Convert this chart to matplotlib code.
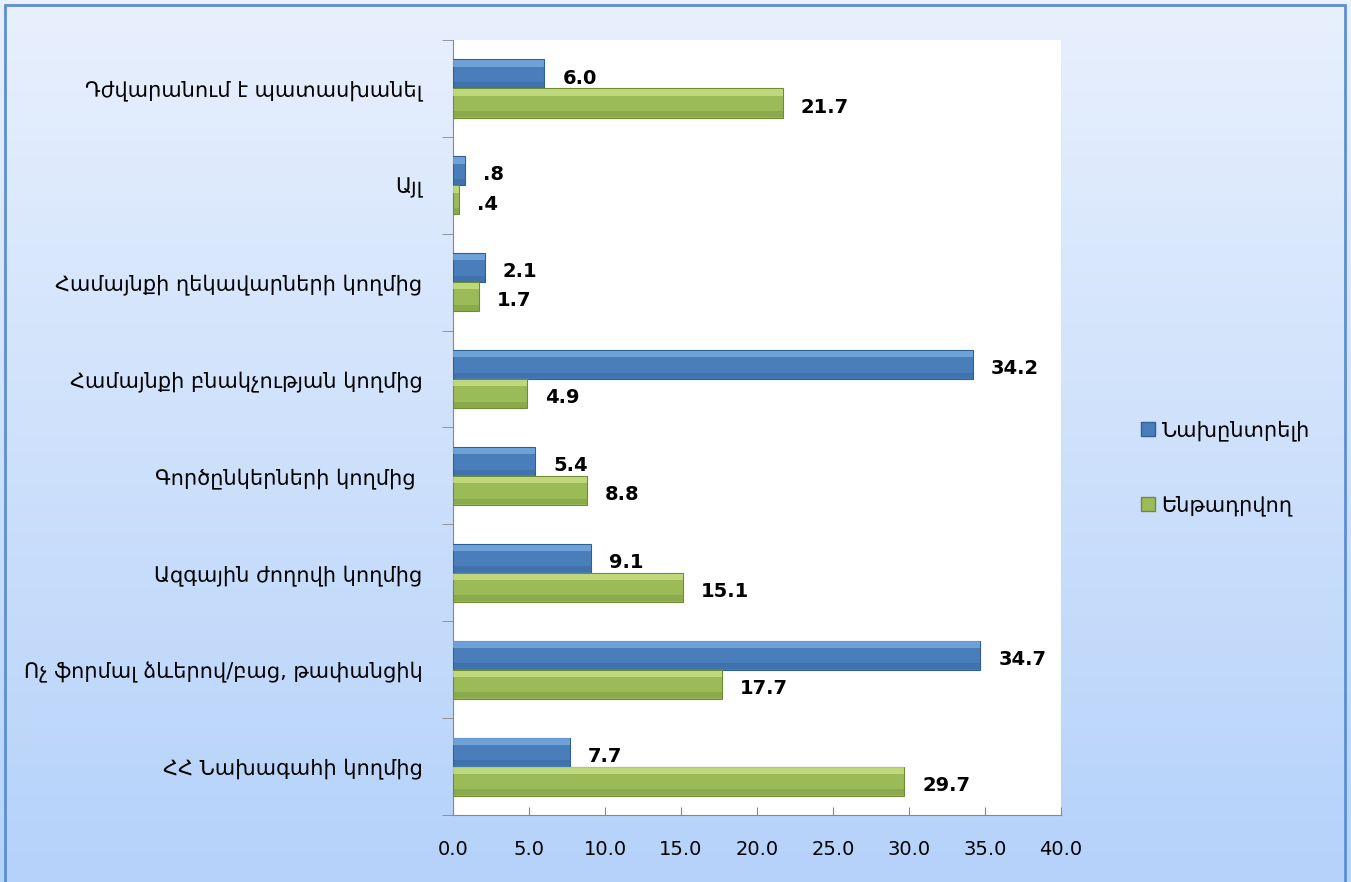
import numpy as np
import matplotlib.pyplot as plt
from matplotlib.patches import Rectangle, Patch

# categories, bottom to top
categories = [
    "ՀՀ Նախագահի կողմից",
    "Ոչ ֆորմալ ձևերով/բաց, թափանցիկ",
    "Ազգային ժողովի կողմից",
    "Գործընկերների կողմից ",
    "Համայնքի բնակչության կողմից",
    "Համայնքի ղեկավարների կողմից",
    "Այլ",
    "Դժվարանում է պատասխանել",
]
preferred = [7.7, 34.7, 9.1, 5.4, 34.2, 2.1, 0.8, 6.0]
assumed = [29.7, 17.7, 15.1, 8.8, 4.9, 1.7, 0.4, 21.7]
series_names = ["Նախընտրելի", "Ենթադրվող"]
xticks = [0, 5, 10, 15, 20, 25, 30, 35, 40]

plt.rcParams['font.family'] = ['DejaVu Sans']

fig = plt.figure(figsize=(13.51, 8.82), dpi=100)

# background gradient of the chart area
bg = fig.add_axes([0, 0, 1, 1], zorder=-10)
grad = np.linspace(0, 1, 256).reshape(-1, 1)
c_top = np.array([232, 240, 253]) / 255
c_bot = np.array([181, 210, 250]) / 255
img = c_top[None, None, :] * (1 - grad[:, :, None]) + c_bot[None, None, :] * grad[:, :, None]
bg.imshow(img, aspect='auto', extent=[0, 1, 0, 1], origin='upper')
bg.add_patch(Rectangle((5 / 1351, -0.01), 1340 / 1351, 1 - 5 / 882 + 0.01,
                       fill=False, edgecolor='#5b8fd0', lw=2))
bg.set_xlim(0, 1)
bg.set_ylim(0, 1)
bg.axis('off')

ax = fig.add_axes([453 / 1351, 1 - 815 / 882, (1061 - 453) / 1351, (815 - 40) / 882])
ax.set_facecolor('white')

y = np.arange(len(categories))
h = 0.3
blue, blue_dark, blue_light = '#4a7ebb', '#2f5f96', '#7fb0e6'
green, green_dark, green_light = '#9bbb59', '#6f8c34', '#cde58a'

for vals, off, base, dark, light in [(preferred, h / 2, blue, blue_dark, blue_light),
                                     (assumed, -h / 2, green, green_dark, green_light)]:
    vals = np.array(vals)
    ax.barh(y + off, vals, height=h, color=base, edgecolor=dark, lw=0.8, zorder=3)
    # bevel highlight / shade
    ax.barh(y + off + h * 0.36, vals, height=h * 0.22, color=light, lw=0, alpha=0.7, zorder=4)
    ax.barh(y + off - h * 0.38, vals, height=h * 0.2, color=dark, lw=0, alpha=0.35, zorder=4)


def fmt(v):
    s = f"{v:.1f}"
    return s[1:] if s.startswith("0") else s


for yy, v in zip(y, preferred):
    ax.annotate(fmt(v), (v, yy + h / 2), xytext=(13, -3), textcoords='offset points',
                va='center', ha='left', fontsize=14, fontweight='bold')
for yy, v in zip(y, assumed):
    ax.annotate(fmt(v), (v, yy - h / 2), xytext=(13, -3), textcoords='offset points',
                va='center', ha='left', fontsize=14, fontweight='bold')

ax.set_xlim(0, 40)
ax.set_ylim(-0.5, len(categories) - 0.5)
ax.set_xticks(xticks)
ax.set_xticklabels([f"{t:.1f}" for t in xticks], fontsize=14)
ax.set_yticks(y)
ax.set_yticklabels(categories, fontsize=15)
ax.tick_params(axis='y', length=0, pad=22)
ax.set_yticks(np.arange(-0.5, len(categories), 1), minor=True)
ax.tick_params(axis='y', which='minor', length=8, color='#888888', direction='out')
ax.tick_params(axis='x', length=6, color='#888888', direction='in', pad=18)
for side in ['top', 'right']:
    ax.spines[side].set_visible(False)
ax.spines['left'].set_color('#888888')
ax.spines['bottom'].set_color('#888888')

handles = [Patch(facecolor=blue, edgecolor=blue_dark), Patch(facecolor=green, edgecolor=green_dark)]
fig.legend(handles, series_names, loc='center left', bbox_to_anchor=(1122 / 1351, 1 - 468 / 882),
           frameon=False, fontsize=15, handlelength=0.7, handleheight=0.7,
           handletextpad=0.3, labelspacing=2.6)

fig.savefig('out.png', dpi=100)
